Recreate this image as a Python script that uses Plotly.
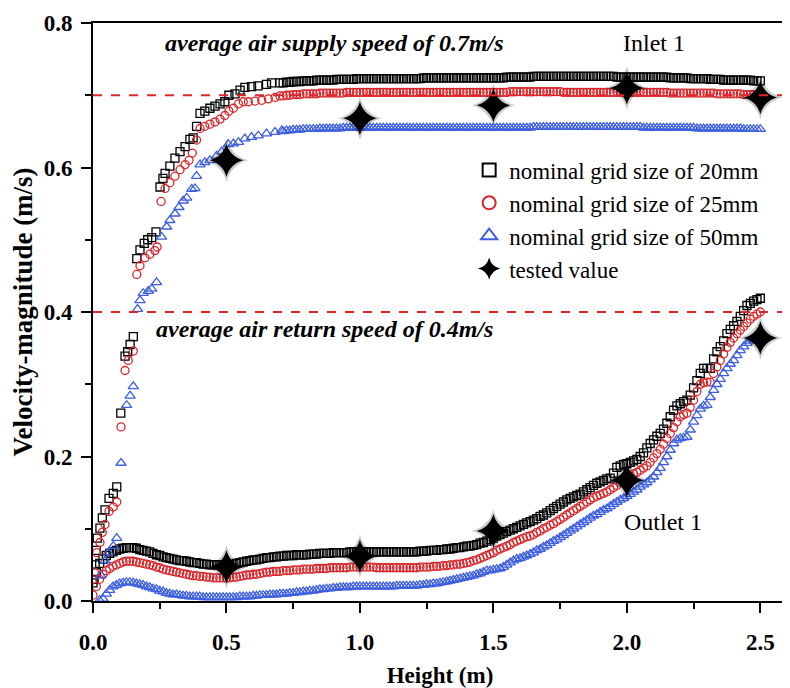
import plotly.graph_objects as go

# ---------------- data ----------------
# Inlet 1 – rising part (irregular sample heights) for each grid size
IN20_X = [0.004, 0.008, 0.012, 0.016, 0.026, 0.035, 0.045, 0.060, 0.076, 0.089, 0.104, 0.120, 0.130, 0.139, 0.151,
          0.164, 0.176, 0.192, 0.205, 0.220, 0.236, 0.251, 0.262, 0.270, 0.288, 0.307, 0.326, 0.345, 0.363, 0.375,
          0.388, 0.401, 0.419, 0.438, 0.457, 0.476, 0.494, 0.509, 0.532, 0.551, 0.569, 0.594, 0.618, 0.650, 0.669, 0.700]
IN20_Y = [0.030, 0.050, 0.070, 0.087, 0.101, 0.115, 0.126, 0.142, 0.149, 0.158, 0.260, 0.339, 0.345, 0.355, 0.366,
          0.474, 0.486, 0.495, 0.500, 0.503, 0.511, 0.573, 0.585, 0.592, 0.602, 0.613, 0.622, 0.629, 0.639, 0.641,
          0.657, 0.675, 0.678, 0.682, 0.685, 0.688, 0.691, 0.700, 0.702, 0.707, 0.711, 0.712, 0.713, 0.715, 0.717, 0.717]

IN25_X = [0.005, 0.014, 0.026, 0.035, 0.045, 0.060, 0.076, 0.089, 0.105, 0.120, 0.132, 0.151,
          0.164, 0.176, 0.195, 0.213, 0.232, 0.240, 0.255, 0.270, 0.288, 0.307, 0.326, 0.345, 0.360, 0.372,
          0.388, 0.401, 0.419, 0.438, 0.457, 0.476, 0.494, 0.509, 0.526, 0.545, 0.563, 0.582, 0.607, 0.632,
          0.657, 0.682, 0.700]
IN25_Y = [0.040, 0.067, 0.081, 0.095, 0.106, 0.124, 0.130, 0.137, 0.241, 0.319, 0.333, 0.346,
          0.452, 0.464, 0.475, 0.480, 0.485, 0.490, 0.553, 0.571, 0.579, 0.588, 0.597, 0.604, 0.610, 0.620,
          0.638, 0.654, 0.657, 0.660, 0.663, 0.667, 0.672, 0.678, 0.682, 0.688, 0.691, 0.691, 0.692, 0.693,
          0.695, 0.697, 0.699]

IN50_X = [0.030, 0.045, 0.057, 0.076, 0.089, 0.105, 0.126, 0.139, 0.151, 0.167, 0.176, 0.188, 0.207, 0.220, 0.238,
          0.257, 0.276, 0.288, 0.307, 0.322, 0.338, 0.351, 0.370, 0.382, 0.388, 0.401, 0.419, 0.438, 0.463, 0.482,
          0.507, 0.526, 0.545, 0.569, 0.594, 0.619, 0.650, 0.682, 0.707]
IN50_Y = [0.035, 0.056, 0.067, 0.076, 0.087, 0.191, 0.271, 0.284, 0.297, 0.404, 0.416, 0.426, 0.429, 0.432, 0.441,
          0.504, 0.518, 0.527, 0.536, 0.545, 0.554, 0.558, 0.570, 0.571, 0.588, 0.604, 0.607, 0.610, 0.616, 0.622,
          0.632, 0.633, 0.635, 0.640, 0.642, 0.644, 0.647, 0.649, 0.651]

# Inlet 1 – plateau, sampled every 0.0125 m from 0.7125 m to 2.5 m (one row = 0.1 m)
PLATEAU_X = [round(0.7125 + 0.0125 * i, 4) for i in range(144)]
PLAT20_ROWS = [
    [0.717, 0.718, 0.718, 0.719, 0.719, 0.719, 0.720, 0.720],
    [0.720, 0.720, 0.721, 0.721, 0.721, 0.721, 0.721, 0.721],
    [0.722, 0.722, 0.722, 0.722, 0.722, 0.722, 0.723, 0.723],
    [0.723, 0.723, 0.723, 0.723, 0.723, 0.723, 0.723, 0.723],
    [0.723, 0.723, 0.723, 0.723, 0.723, 0.723, 0.723, 0.723],
    [0.723, 0.723, 0.724, 0.724, 0.724, 0.724, 0.724, 0.724],
    [0.724, 0.724, 0.724, 0.724, 0.724, 0.724, 0.724, 0.724],
    [0.724, 0.724, 0.724, 0.724, 0.724, 0.724, 0.724, 0.724],
    [0.724, 0.724, 0.724, 0.725, 0.725, 0.725, 0.725, 0.725],
    [0.725, 0.725, 0.725, 0.726, 0.726, 0.726, 0.726, 0.726],
    [0.726, 0.726, 0.726, 0.726, 0.726, 0.726, 0.726, 0.726],
    [0.726, 0.726, 0.726, 0.726, 0.726, 0.726, 0.726, 0.726],
    [0.726, 0.726, 0.726, 0.726, 0.725, 0.725, 0.725, 0.725],
    [0.725, 0.725, 0.725, 0.725, 0.725, 0.725, 0.725, 0.725],
    [0.725, 0.725, 0.725, 0.725, 0.724, 0.724, 0.724, 0.724],
    [0.724, 0.724, 0.723, 0.723, 0.723, 0.723, 0.723, 0.723],
    [0.722, 0.722, 0.722, 0.722, 0.721, 0.721, 0.721, 0.721],
    [0.721, 0.721, 0.721, 0.721, 0.721, 0.720, 0.720, 0.720],
]
PLAT25_ROWS = [
    [0.699, 0.700, 0.700, 0.701, 0.701, 0.701, 0.702, 0.702],
    [0.702, 0.702, 0.702, 0.703, 0.703, 0.703, 0.703, 0.703],
    [0.703, 0.703, 0.703, 0.704, 0.704, 0.704, 0.704, 0.704],
    [0.704, 0.704, 0.704, 0.704, 0.704, 0.704, 0.704, 0.704],
    [0.704, 0.704, 0.704, 0.704, 0.704, 0.704, 0.704, 0.704],
    [0.704, 0.704, 0.704, 0.704, 0.704, 0.704, 0.704, 0.704],
    [0.704, 0.704, 0.704, 0.704, 0.704, 0.704, 0.704, 0.704],
    [0.704, 0.704, 0.704, 0.704, 0.704, 0.704, 0.704, 0.704],
    [0.704, 0.704, 0.704, 0.704, 0.705, 0.705, 0.705, 0.705],
    [0.705, 0.705, 0.705, 0.705, 0.705, 0.705, 0.705, 0.705],
    [0.705, 0.705, 0.705, 0.705, 0.704, 0.704, 0.704, 0.704],
    [0.704, 0.704, 0.704, 0.704, 0.704, 0.704, 0.704, 0.704],
    [0.704, 0.704, 0.704, 0.704, 0.704, 0.704, 0.704, 0.704],
    [0.704, 0.704, 0.704, 0.704, 0.704, 0.704, 0.704, 0.704],
    [0.704, 0.704, 0.704, 0.704, 0.703, 0.703, 0.703, 0.703],
    [0.703, 0.703, 0.703, 0.703, 0.703, 0.703, 0.703, 0.703],
    [0.703, 0.703, 0.702, 0.702, 0.702, 0.702, 0.702, 0.702],
    [0.702, 0.702, 0.701, 0.701, 0.701, 0.701, 0.701, 0.701],
]
PLAT50_ROWS = [
    [0.650, 0.651, 0.651, 0.652, 0.652, 0.652, 0.653, 0.653],
    [0.653, 0.653, 0.653, 0.654, 0.654, 0.654, 0.654, 0.654],
    [0.654, 0.654, 0.655, 0.655, 0.655, 0.655, 0.655, 0.655],
    [0.655, 0.655, 0.655, 0.655, 0.655, 0.655, 0.655, 0.655],
    [0.655, 0.655, 0.655, 0.655, 0.655, 0.655, 0.655, 0.655],
    [0.655, 0.655, 0.655, 0.655, 0.655, 0.655, 0.655, 0.655],
    [0.655, 0.655, 0.655, 0.655, 0.655, 0.655, 0.655, 0.655],
    [0.655, 0.655, 0.655, 0.655, 0.655, 0.655, 0.655, 0.655],
    [0.655, 0.655, 0.655, 0.655, 0.655, 0.655, 0.655, 0.655],
    [0.655, 0.655, 0.655, 0.656, 0.656, 0.656, 0.656, 0.656],
    [0.656, 0.656, 0.656, 0.656, 0.656, 0.656, 0.656, 0.656],
    [0.656, 0.656, 0.656, 0.656, 0.656, 0.656, 0.656, 0.656],
    [0.656, 0.656, 0.656, 0.656, 0.656, 0.656, 0.656, 0.656],
    [0.656, 0.656, 0.656, 0.656, 0.655, 0.655, 0.655, 0.655],
    [0.655, 0.655, 0.655, 0.655, 0.655, 0.655, 0.655, 0.655],
    [0.655, 0.655, 0.655, 0.655, 0.654, 0.654, 0.654, 0.654],
    [0.654, 0.654, 0.654, 0.654, 0.654, 0.654, 0.654, 0.654],
    [0.654, 0.654, 0.653, 0.653, 0.653, 0.653, 0.653, 0.653],
]

# Outlet 1, sampled every 0.0125 m from 0 to 2.5 m (rows: 0–0.5, 0.5–1.0, 1.0–1.5, 1.5–2.0, 2.0–2.5)
OUTLET_X = [round(0.0125 * i, 4) for i in range(201)]
OUT20_ROWS = [
    [0.025, 0.040, 0.052, 0.058, 0.063, 0.066, 0.068, 0.070, 0.072, 0.073, 0.074, 0.074, 0.074, 0.073,
     0.071, 0.070, 0.069, 0.068, 0.066, 0.064, 0.063, 0.061, 0.060, 0.059, 0.058, 0.057, 0.056, 0.056,
     0.055, 0.054, 0.053, 0.053, 0.052, 0.051, 0.051, 0.050, 0.050, 0.050, 0.050, 0.050, 0.050],
    [0.050, 0.051, 0.052, 0.053, 0.054, 0.055, 0.056, 0.057, 0.057, 0.058, 0.059, 0.060, 0.060, 0.061,
     0.061, 0.062, 0.062, 0.063, 0.063, 0.063, 0.064, 0.064, 0.064, 0.064, 0.065, 0.065, 0.065, 0.066,
     0.066, 0.066, 0.066, 0.067, 0.067, 0.067, 0.067, 0.067, 0.068, 0.068, 0.068, 0.068],
    [0.068, 0.068, 0.068, 0.068, 0.068, 0.068, 0.068, 0.068, 0.068, 0.068, 0.068, 0.068, 0.068, 0.068,
     0.068, 0.068, 0.068, 0.069, 0.069, 0.069, 0.070, 0.070, 0.070, 0.071, 0.071, 0.072, 0.072, 0.073,
     0.074, 0.074, 0.075, 0.076, 0.076, 0.077, 0.078, 0.080, 0.081, 0.083, 0.085, 0.087],
    [0.090, 0.092, 0.094, 0.096, 0.098, 0.100, 0.102, 0.104, 0.106, 0.108, 0.110, 0.112, 0.114, 0.117,
     0.119, 0.122, 0.125, 0.128, 0.131, 0.134, 0.137, 0.140, 0.142, 0.144, 0.146, 0.148, 0.151, 0.154,
     0.157, 0.160, 0.163, 0.165, 0.167, 0.169, 0.170, 0.177, 0.185, 0.187, 0.189, 0.190],
    [0.192, 0.194, 0.196, 0.200, 0.205, 0.212, 0.218, 0.223, 0.228, 0.232, 0.238, 0.246, 0.255, 0.264,
     0.270, 0.273, 0.276, 0.278, 0.285, 0.295, 0.305, 0.315, 0.322, 0.322, 0.322, 0.335, 0.345, 0.352,
     0.360, 0.370, 0.376, 0.381, 0.387, 0.394, 0.402, 0.409, 0.412, 0.415, 0.417, 0.419],
]
OUT25_ROWS = [
    [0.008, 0.020, 0.030, 0.037, 0.042, 0.045, 0.048, 0.050, 0.052, 0.054, 0.055, 0.055, 0.055, 0.054,
     0.053, 0.052, 0.051, 0.050, 0.049, 0.047, 0.046, 0.044, 0.043, 0.042, 0.041, 0.040, 0.039, 0.038,
     0.037, 0.036, 0.035, 0.035, 0.034, 0.034, 0.033, 0.033, 0.032, 0.032, 0.032, 0.032, 0.032],
    [0.032, 0.033, 0.033, 0.034, 0.035, 0.036, 0.036, 0.037, 0.037, 0.038, 0.039, 0.040, 0.040, 0.041,
     0.041, 0.041, 0.042, 0.042, 0.042, 0.043, 0.043, 0.043, 0.044, 0.044, 0.044, 0.044, 0.045, 0.045,
     0.045, 0.045, 0.046, 0.046, 0.046, 0.046, 0.046, 0.046, 0.047, 0.047, 0.047, 0.047],
    [0.047, 0.047, 0.047, 0.047, 0.046, 0.046, 0.046, 0.046, 0.046, 0.046, 0.046, 0.046, 0.046, 0.046,
     0.046, 0.046, 0.046, 0.047, 0.047, 0.047, 0.047, 0.048, 0.048, 0.048, 0.049, 0.049, 0.050, 0.050,
     0.051, 0.051, 0.052, 0.053, 0.054, 0.056, 0.057, 0.059, 0.061, 0.063, 0.065, 0.067],
    [0.070, 0.072, 0.074, 0.076, 0.078, 0.081, 0.083, 0.085, 0.087, 0.089, 0.090, 0.092, 0.095, 0.097,
     0.100, 0.102, 0.105, 0.107, 0.110, 0.113, 0.116, 0.119, 0.122, 0.125, 0.128, 0.131, 0.134, 0.137,
     0.140, 0.143, 0.145, 0.147, 0.149, 0.151, 0.154, 0.157, 0.160, 0.164, 0.167, 0.170],
    [0.173, 0.176, 0.178, 0.181, 0.184, 0.187, 0.192, 0.198, 0.204, 0.210, 0.217, 0.225, 0.232, 0.240,
     0.248, 0.255, 0.258, 0.260, 0.268, 0.278, 0.290, 0.300, 0.302, 0.303, 0.303, 0.315, 0.324, 0.333,
     0.342, 0.351, 0.358, 0.364, 0.370, 0.375, 0.380, 0.385, 0.390, 0.394, 0.397, 0.400],
]
OUT50_ROWS = [
    [None, None, 0.001, 0.003, 0.010, 0.015, 0.020, 0.022, 0.024, 0.025, 0.026, 0.026, 0.025, 0.024,
     0.023, 0.022, 0.020, 0.019, 0.017, 0.016, 0.014, 0.013, 0.011, 0.010, 0.009, 0.009, 0.008, 0.007,
     0.007, 0.006, 0.006, 0.006, 0.006, 0.005, 0.005, 0.005, 0.005, 0.005, 0.005, 0.005, 0.005],
    [0.005, 0.005, 0.005, 0.006, 0.006, 0.006, 0.006, 0.007, 0.007, 0.008, 0.008, 0.008, 0.009, 0.009,
     0.009, 0.010, 0.010, 0.010, 0.011, 0.011, 0.012, 0.012, 0.013, 0.013, 0.014, 0.014, 0.015, 0.016,
     0.016, 0.017, 0.017, 0.018, 0.018, 0.019, 0.019, 0.019, 0.019, 0.020, 0.020, 0.020],
    [0.020, 0.020, 0.020, 0.020, 0.020, 0.020, 0.020, 0.020, 0.020, 0.020, 0.021, 0.021, 0.021, 0.021,
     0.021, 0.021, 0.021, 0.022, 0.022, 0.023, 0.023, 0.024, 0.024, 0.025, 0.026, 0.027, 0.028, 0.029,
     0.030, 0.031, 0.032, 0.033, 0.034, 0.035, 0.037, 0.038, 0.040, 0.042, 0.042, 0.043],
    [0.044, 0.045, 0.047, 0.050, 0.053, 0.056, 0.058, 0.059, 0.061, 0.063, 0.065, 0.067, 0.070, 0.072,
     0.075, 0.077, 0.080, 0.083, 0.085, 0.088, 0.091, 0.094, 0.097, 0.100, 0.103, 0.106, 0.109, 0.112,
     0.115, 0.118, 0.120, 0.123, 0.126, 0.128, 0.131, 0.134, 0.137, 0.140, 0.142, 0.145],
    [0.148, 0.151, 0.154, 0.158, 0.161, 0.164, 0.168, 0.172, 0.178, 0.184, 0.192, 0.200, 0.209, 0.218,
     0.223, 0.225, 0.226, 0.227, 0.237, 0.248, 0.257, 0.266, 0.270, 0.271, 0.282, 0.292, 0.300, 0.307,
     0.315, 0.322, 0.328, 0.333, 0.340, 0.347, 0.352, 0.357, 0.360, 0.362, 0.365, 0.368],
]

# tested values
TEST_X = [0.5, 1.0, 1.5, 2.0, 2.5, 0.5, 1.0, 1.5, 2.0, 2.5]
TEST_Y = [0.610, 0.668, 0.686, 0.710, 0.697, 0.047, 0.062, 0.097, 0.167, 0.364]

SUPPLY_SPEED = 0.7
RETURN_SPEED = 0.4

LEGEND_NAMES = ["nominal grid size of 20mm", "nominal grid size of 25mm",
                "nominal grid size of 50mm", "tested value"]


def flat(rows):
    return [v for row in rows for v in row]


PLAT20_Y, PLAT25_Y, PLAT50_Y = flat(PLAT20_ROWS), flat(PLAT25_ROWS), flat(PLAT50_ROWS)
OUT20_Y, OUT25_Y, OUT50_Y = flat(OUT20_ROWS), flat(OUT25_ROWS), flat(OUT50_ROWS)

# ---------------- styling ----------------
SERIF = "Liberation Serif"
BLACK = "#000000"
RED = "#d8262a"
BLUE = "#3d5fe0"

fig = go.Figure()

series = [
    (IN20_X + PLATEAU_X, IN20_Y + PLAT20_Y, OUT20_Y, "square-open", BLACK, 8),
    (IN25_X + PLATEAU_X, IN25_Y + PLAT25_Y, OUT25_Y, "circle-open", RED, 8),
    (IN50_X + PLATEAU_X, IN50_Y + PLAT50_Y, OUT50_Y, "triangle-up-open", BLUE, 9),
]

for ix, iy, oy, sym, col, sz in series:
    mk = dict(symbol=sym, size=sz, color=col, line=dict(color=col, width=1.3))
    fig.add_trace(go.Scatter(x=ix, y=iy, mode="markers", marker=mk, showlegend=False, hoverinfo="skip"))
    fig.add_trace(go.Scatter(x=OUTLET_X, y=oy, mode="markers", marker=mk, showlegend=False, hoverinfo="skip"))

# tested values: soft shadow + star
fig.add_trace(go.Scatter(x=TEST_X, y=TEST_Y, mode="markers", showlegend=False, hoverinfo="skip",
                         marker=dict(symbol="star-diamond", size=31, color="rgba(0,0,0,0.2)",
                                     line=dict(width=0))))
fig.add_trace(go.Scatter(x=TEST_X, y=TEST_Y, mode="markers", showlegend=False,
                         marker=dict(symbol="star-diamond", size=24, color=BLACK, line=dict(width=0))))

# legend entries (larger symbols, as in the reference)
legend_styles = [("square-open", BLACK, 13), ("circle-open", RED, 13),
                 ("triangle-up-open", BLUE, 14), ("star-diamond", BLACK, 24)]
for name, (sym, col, sz) in zip(LEGEND_NAMES, legend_styles):
    fig.add_trace(go.Scatter(x=[None], y=[None], mode="markers", name=name,
                             marker=dict(symbol=sym, size=sz, color=col,
                                         line=dict(color=col, width=2 if "open" in sym else 0))))

# reference speed lines
for yv in (SUPPLY_SPEED, RETURN_SPEED):
    fig.add_shape(type="line", xref="paper", yref="y", x0=0, x1=1.01, y0=yv, y1=yv,
                  line=dict(color="#e0262a", width=2, dash="dash"), layer="above")

ann_font_bi = dict(family=SERIF, size=24, color=BLACK, weight="bold", style="italic")
ann_font = dict(family=SERIF, size=24, color=BLACK)
fig.add_annotation(x=0.906, y=0.773, xref="x", yref="y", text="average air supply speed of 0.7m/s",
                   showarrow=False, font=ann_font_bi)
fig.add_annotation(x=0.869, y=0.377, xref="x", yref="y", text="average air return speed of 0.4m/s",
                   showarrow=False, font=ann_font_bi)
fig.add_annotation(x=2.10, y=0.773, xref="x", yref="y", text="Inlet 1", showarrow=False, font=ann_font)
fig.add_annotation(x=2.135, y=0.110, xref="x", yref="y", text="Outlet 1", showarrow=False, font=ann_font)

axis_common = dict(showline=True, linecolor=BLACK, linewidth=2, mirror=True, ticks="outside",
                   tickcolor=BLACK, tickwidth=2, ticklen=10, showgrid=False, zeroline=False,
                   automargin=False, ticklabeloverflow="allow",
                   tickfont=dict(family=SERIF, size=23, color=BLACK, weight="bold"))

# the page body adds an 8 px offset, so the figure is 8 px smaller with less left/top margin
fig.update_layout(
    width=782, height=680,
    margin=dict(l=85, r=3, t=15, b=87),
    paper_bgcolor="white", plot_bgcolor="white",
    font=dict(family=SERIF, color=BLACK),
    xaxis=dict(range=[0, 2.6], dtick=0.5, tick0=0, tickformat=".1f", ticklabelstandoff=9,
               minor=dict(dtick=0.25, ticks="outside", ticklen=6, tickwidth=2, tickcolor=BLACK, showgrid=False),
               title=dict(text="Height (m)", font=dict(family=SERIF, size=23, color=BLACK, weight="bold"),
                          standoff=17),
               **axis_common),
    yaxis=dict(range=[0, 0.8], dtick=0.2, tick0=0, tickformat=".1f", ticklabelstandoff=4,
               minor=dict(dtick=0.1, ticks="outside", ticklen=6, tickwidth=2, tickcolor=BLACK, showgrid=False),
               title=dict(text="Velocity-magnitude (m/s)",
                          font=dict(family=SERIF, size=27, color=BLACK, weight="bold"), standoff=6),
               **axis_common),
    legend=dict(x=0.542, y=0.783, xanchor="left", yanchor="top", bgcolor="rgba(0,0,0,0)",
                font=dict(family=SERIF, size=23, color=BLACK), tracegroupgap=0, itemsizing="trace"),
)

fig.write_html("out.html")
